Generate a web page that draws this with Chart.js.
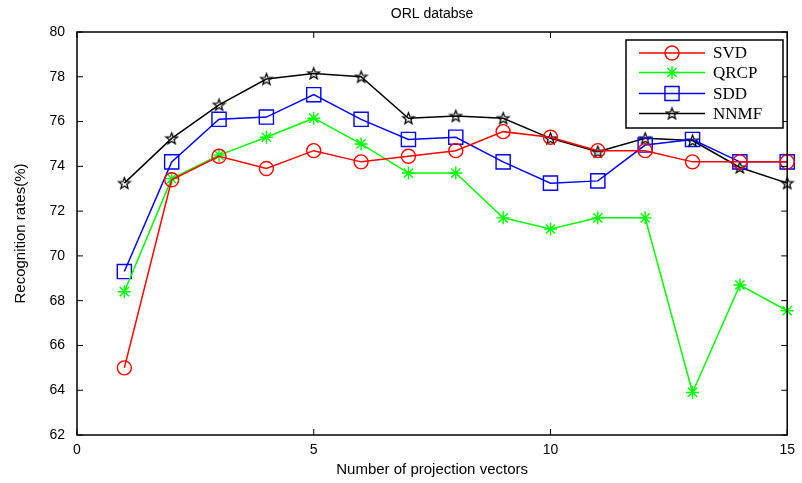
<!DOCTYPE html>
<html>
<head>
<meta charset="utf-8">
<script src="https://cdn.jsdelivr.net/npm/chart.js@4.4.1/dist/chart.umd.min.js"></script>
<style>
  html, body { margin: 0; padding: 0; background: #fff; }
  #wrap { width: 802px; height: 483px; }
</style>
</head>
<body>
<div id="wrap"><canvas id="c" width="802" height="483"></canvas></div>
<script>
const xs   = [1, 2, 3, 4, 5, 6, 7, 8, 9, 10, 11, 12, 13, 14, 15];
const svd  = [65.0, 73.4, 74.45, 73.9, 74.7, 74.2, 74.45, 74.7, 75.55, 75.3, 74.7, 74.7, 74.2, 74.2, 74.2];
const qrcp = [68.4, 73.45, 74.5, 75.3, 76.15, 75.0, 73.7, 73.7, 71.7, 71.2, 71.7, 71.7, 63.9, 68.7, 67.55];
const sdd  = [69.3, 74.2, 76.1, 76.2, 77.2, 76.1, 75.2, 75.3, 74.2, 73.25, 73.35, 74.95, 75.2, 74.2, 74.2];
const nnmf = [73.25, 75.25, 76.75, 77.9, 78.15, 78.0, 76.15, 76.25, 76.15, 75.25, 74.65, 75.25, 75.15, 73.95, 73.25];
const yTicks = [62, 64, 66, 68, 70, 72, 74, 76, 78, 80];

const toPts = arr => arr.map((v, i) => ({ x: xs[i], y: v }));

// pentagram marker
function makeStar(size) {
    const cv = document.createElement('canvas');
    cv.width = size; cv.height = size;
    const g = cv.getContext('2d');
    const c = size / 2, R = size / 2 - 1.5, r = R * 0.42;
    g.beginPath();
    for (let i = 0; i < 10; i++) {
        const a = -Math.PI / 2 + i * Math.PI / 5;
        const rr = i % 2 ? r : R;
        const px = c + rr * Math.cos(a), py = c + 0.5 + rr * Math.sin(a);
        i ? g.lineTo(px, py) : g.moveTo(px, py);
    }
    g.closePath();
    g.strokeStyle = '#000';
    g.lineWidth = 1.3;
    g.stroke();
    return cv;
}
const starImg = makeStar(15);

const series = [
    { label: 'SVD',  data: svd,  color: '#ff0000', style: 'circle', radius: 7 },
    { label: 'QRCP', data: qrcp, color: '#00ff00', style: 'star',   radius: 6.5 },
    { label: 'SDD',  data: sdd,  color: '#0000ff', style: 'rect',   radius: 10 },
    { label: 'NNMF', data: nnmf, color: '#000000', style: starImg,  radius: 8 }
];

const frame = {
    id: 'frame',
    afterDatasetsDraw(chart) {
        const { ctx, chartArea: a, scales } = chart;
        ctx.save();
        ctx.strokeStyle = '#000';
        ctx.lineWidth = 1.5;
        ctx.strokeRect(a.left, a.top, a.right - a.left, a.bottom - a.top);
        ctx.lineWidth = 1;
        ctx.beginPath();
        [0, 5, 10, 15].forEach(v => {
            const x = scales.x.getPixelForValue(v);
            ctx.moveTo(x, a.bottom); ctx.lineTo(x, a.bottom - 6);
            ctx.moveTo(x, a.top); ctx.lineTo(x, a.top + 6);
        });
        yTicks.forEach(v => {
            const y = scales.y.getPixelForValue(v);
            ctx.moveTo(a.left, y); ctx.lineTo(a.left + 6, y);
            ctx.moveTo(a.right, y); ctx.lineTo(a.right - 6, y);
        });
        ctx.stroke();

        // title
        ctx.fillStyle = '#000';
        ctx.font = '14px "Liberation Sans", Arial, sans-serif';
        ctx.textAlign = 'center';
        ctx.textBaseline = 'middle';
        ctx.fillText('ORL databse', (a.left + a.right) / 2, 14);

        // legend box
        const bx = 626, by = 40, bw = 157, bh = 88;
        ctx.fillStyle = '#fff';
        ctx.fillRect(bx, by, bw, bh);
        ctx.strokeStyle = '#000';
        ctx.lineWidth = 1.5;
        ctx.strokeRect(bx, by, bw, bh);
        const rowY = [53, 72.5, 93.5, 113.5];
        chart.data.datasets.forEach((ds, i) => {
            const y = rowY[i];
            ctx.strokeStyle = ds.borderColor;
            ctx.fillStyle = 'rgba(0,0,0,0)';
            ctx.lineWidth = 1.5;
            ctx.beginPath();
            ctx.moveTo(639, y); ctx.lineTo(705, y);
            ctx.stroke();
            ctx.lineWidth = 1.4;
            Chart.helpers.drawPoint(ctx, {
                pointStyle: ds.pointStyle, radius: ds.pointRadius,
                borderWidth: 1.4, rotation: 0
            }, 672, y);
            ctx.fillStyle = '#000';
            ctx.font = '17px "Liberation Serif", "Times New Roman", serif';
            ctx.textAlign = 'left';
            ctx.fillText(ds.label, 713, y + 1);
        });
        ctx.restore();
    }
};

new Chart(document.getElementById('c'), {
    type: 'line',
    data: {
        datasets: series.map(s => ({
            label: s.label,
            data: toPts(s.data),
            borderColor: s.color,
            backgroundColor: 'rgba(0,0,0,0)',
            pointBorderColor: s.color,
            pointBackgroundColor: 'rgba(0,0,0,0)',
            pointStyle: s.style,
            pointRadius: s.radius,
            pointBorderWidth: 1.4,
            borderWidth: 1.5,
            tension: 0,
            clip: false
        }))
    },
    plugins: [frame],
    options: {
        responsive: false,
        animation: false,
        devicePixelRatio: 1,
        layout: { padding: { left: 0, top: 32, right: 9, bottom: 0 } },
        plugins: { legend: { display: false }, title: { display: false }, tooltip: { enabled: false } },
        scales: {
            x: {
                type: 'linear', min: 0, max: 15,
                afterFit: s => { s.height = 48; },
                grid: { display: false, drawTicks: false },
                border: { display: false },
                ticks: { stepSize: 5, padding: 7, color: '#000',
                         font: { family: '"Liberation Sans", Arial, sans-serif', size: 14 } },
                title: { display: true, text: 'Number of projection vectors', color: '#000', padding: { top: 0 },
                         font: { family: '"Liberation Sans", Arial, sans-serif', size: 15 } }
            },
            y: {
                min: 62, max: 80,
                afterFit: s => { s.width = 77; },
                grid: { display: false, drawTicks: false },
                border: { display: false },
                ticks: { stepSize: 2, padding: 12, color: '#000',
                         font: { family: '"Liberation Sans", Arial, sans-serif', size: 14 } },
                title: { display: true, text: 'Recognition rates(%)', color: '#000', padding: { top: 12, bottom: 0 },
                         font: { family: '"Liberation Sans", Arial, sans-serif', size: 15 } }
            }
        }
    }
});
</script>
</body>
</html>
